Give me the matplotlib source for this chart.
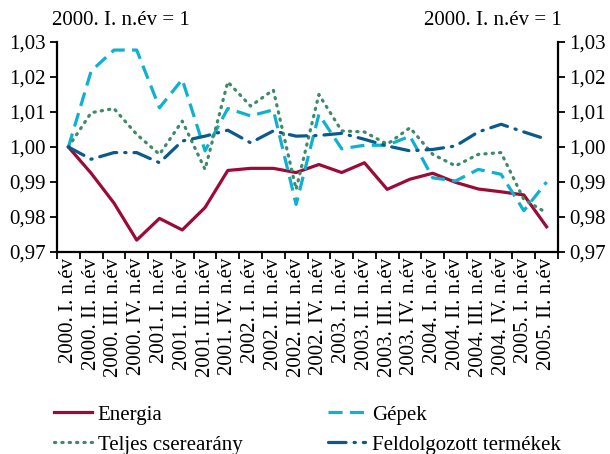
import matplotlib
matplotlib.use("Agg")
import matplotlib.pyplot as plt
from matplotlib.ticker import FixedLocator, FuncFormatter

plt.rcParams['font.family'] = ['Liberation Serif', 'DejaVu Serif']

years = ['2000', '2000', '2000', '2000', '2001', '2001', '2001', '2001',
         '2002', '2002', '2002', '2002', '2003', '2003', '2003', '2003',
         '2004', '2004', '2004', '2004', '2005', '2005']
quarters = ['I', 'II', 'III', 'IV'] * 5 + ['I', 'II']
labels = [y + '. ' + q + '. n.év' for y, q in zip(years, quarters)]

energia = [1.000, 0.9925, 0.984, 0.9734, 0.9796, 0.9763, 0.9827, 0.9933,
           0.9939, 0.9939, 0.9927, 0.995, 0.9927, 0.9955, 0.9879, 0.9908,
           0.9925, 0.9899, 0.9880, 0.9872, 0.9863, 0.9772]
gepek = [1.000, 1.0217, 1.0277, 1.0277, 1.0112, 1.0193, 0.9989, 1.0110,
         1.0089, 1.0106, 0.9836, 1.0093, 0.9995, 1.0005, 1.0005, 1.0031,
         0.9912, 0.9903, 0.9936, 0.9922, 0.9818, 0.9900]
teljes = [1.000, 1.0098, 1.0110, 1.0036, 0.9979, 1.0074, 0.9936, 1.0186,
          1.0117, 1.0163, 0.9879, 1.0150, 1.0046, 1.0043, 1.0008, 1.0055,
          0.9979, 0.9946, 0.9979, 0.9984, 0.9850, 0.9812]
feldolg = [1.000, 0.9965, 0.9984, 0.9984, 0.9955, 1.0017, 1.0031, 1.0048,
           1.0012, 1.0046, 1.0031, 1.0033, 1.0039, 1.0022, 1.0003, 0.9989,
           0.9993, 1.0003, 1.0043, 1.0065, 1.0043, 1.0022]

c_energia = '#9c0b36'
c_gepek = '#0fb0d2'
c_teljes = '#3f8a6a'
c_feld = '#0a5a8a'
fs = 15

fig = plt.figure(figsize=(6.10, 4.54), dpi=100)
ax = fig.add_axes([57 / 610, 1 - 252 / 454, 501 / 610, 210 / 454])

x = list(range(len(labels)))
ax.plot(x, energia, color=c_energia, lw=2.3, label='Energia')
ax.plot(x, gepek, color=c_gepek, lw=2.3, dashes=(4.4, 2.3), label='Gépek')
ax.plot(x, teljes, color=c_teljes, lw=2.3, dashes=(0.4, 1.9),
        dash_capstyle='round', label='Teljes cserearány')
ax.plot(x, feldolg, color=c_feld, lw=2.3, dashes=(5.5, 2.5, 0.4, 2.5),
        dash_capstyle='round', label='Feldolgozott termékek')

ax.set_xlim(-0.5, len(labels) - 0.5)
ax.set_ylim(0.97, 1.03)

# ticks between categories, labels at category centres
ax.xaxis.set_major_locator(FixedLocator([i - 0.5 for i in range(len(labels) + 1)]))
ax.xaxis.set_minor_locator(FixedLocator(x))
ax.set_xticklabels([])
ax.set_xticklabels(labels, minor=True, rotation=90, fontsize=fs)
ax.tick_params(axis='x', which='major', direction='out', length=5, width=1.3)
ax.tick_params(axis='x', which='minor', length=0, pad=4)

yt = [0.97, 0.98, 0.99, 1.00, 1.01, 1.02, 1.03]
fmt = FuncFormatter(lambda v, p: f'{v:.2f}'.replace('.', ','))
ax.set_yticks(yt)
ax.yaxis.set_major_formatter(fmt)
ax.tick_params(axis='y', direction='out', length=5, width=1.3, labelsize=fs,
               left=True, right=True, labelleft=True, labelright=True, pad=3)

ax.spines['top'].set_visible(False)
for s in ['left', 'right', 'bottom']:
    ax.spines[s].set_linewidth(1.6)

fig.text(52 / 610, 1 - 25 / 454, '2000. I. n.év = 1', fontsize=fs, ha='left', va='baseline')
fig.text(562 / 610, 1 - 25 / 454, '2000. I. n.év = 1', fontsize=fs, ha='right', va='baseline')

h, l = ax.get_legend_handles_labels()
order = [0, 2, 1, 3]
fig.legend([h[i] for i in order], [l[i] for i in order], ncol=2, frameon=False,
           fontsize=fs, loc='upper left', bbox_to_anchor=(54 / 610, 1 - 405 / 454),
           handlelength=1.8, handletextpad=0.3, columnspacing=4.1,
           labelspacing=0.5, borderaxespad=0, borderpad=0)

fig.savefig('out.png', dpi=100)
